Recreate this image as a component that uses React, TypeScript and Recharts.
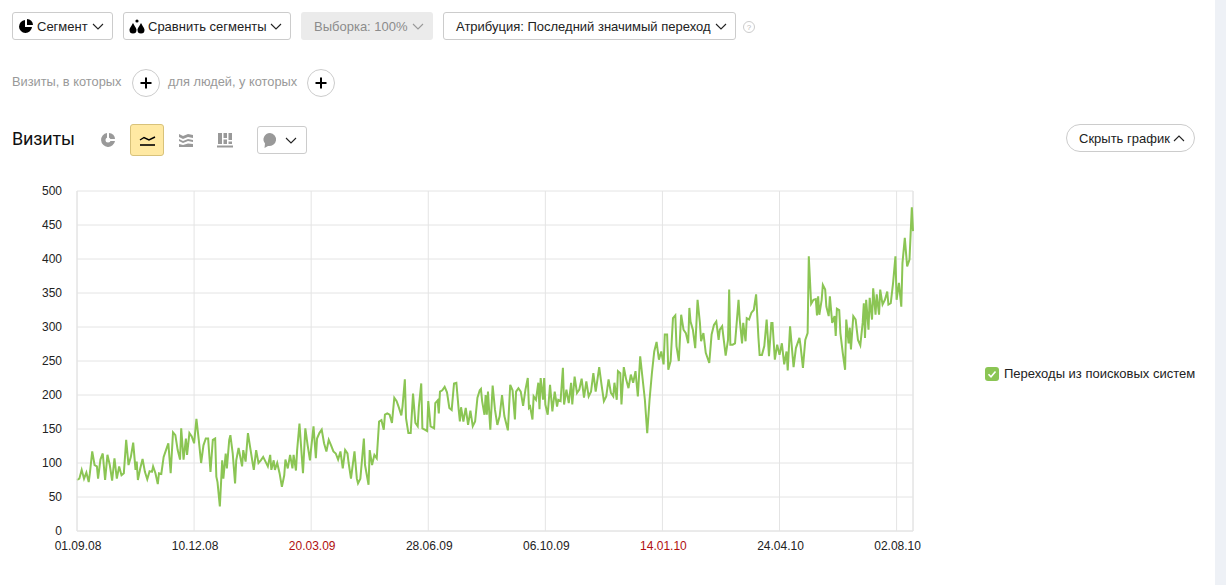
import type { CSSProperties, ReactNode } from 'react';
import { LineChart, Line, XAxis, YAxis, CartesianGrid, ReferenceLine, Legend } from 'recharts';

const FONT = '"Liberation Sans", Arial, sans-serif';
const GREEN = '#8bc554';
const GRID = '#e4e4e4';

const seriesName = 'Переходы из поисковых систем';

const visitDays = [
  0, 2, 4, 6, 8, 10, 11, 13, 15, 17, 18, 20, 22, 24, 26, 28, 30, 32, 34, 36, 38, 40, 42, 44, 46, 48, 50, 51, 52, 54, 56, 58, 60, 62, 64, 65, 67, 69, 70, 72, 74, 76, 78, 80, 82, 84, 86, 88, 89, 91, 93, 94, 96, 98, 100, 102, 104, 106, 108, 110, 112, 114, 116,
  118, 119, 120, 122, 124, 125, 127, 128, 130, 131, 133, 135, 136, 138, 141, 142, 144, 146, 148, 150, 151, 153, 155, 157, 159, 161, 163, 165, 166, 168, 169, 171, 173, 175, 177, 178, 180, 182, 184, 185, 187, 188, 190, 193, 195, 197, 199, 200, 202, 204, 205, 207, 209, 211, 213, 215, 217, 219, 221, 223, 225, 227, 229, 231, 232, 234, 237, 239, 240, 242, 245, 246, 249, 250, 252, 254, 256, 258,
  260, 262, 263, 265, 267, 269, 271, 273, 275, 277, 278, 280, 281, 283, 285, 287, 289, 291, 292, 294, 295, 297, 299, 300, 302, 305, 306, 308, 309, 310, 312, 314, 316, 318, 320, 322, 324, 326, 327, 328, 330, 332, 334, 336, 338, 340, 342, 344, 345, 346, 348, 349, 350, 351, 353, 355, 357, 359, 361, 363, 365, 368, 370, 372, 374, 375, 377, 379,
  381, 383, 385, 386, 387, 389, 390, 392, 394, 395, 396, 398, 399, 400, 402, 404, 406, 408, 410, 411, 413, 415, 416, 418, 420, 422, 423, 425, 427, 429, 431, 433, 435, 437, 439, 441, 443, 446, 448, 450, 452, 454, 456, 458, 459, 461, 462, 464, 465, 467, 469, 471, 473, 475, 477, 479, 481, 483, 485, 487, 489, 491, 493, 495, 497,
  499, 501, 502, 504, 505, 507, 509, 511, 512, 514, 516, 518, 520, 522, 523, 524, 526, 528, 530, 532, 533, 535, 537, 538, 540, 542, 544, 546, 548, 549, 551, 554, 556, 557, 558, 560, 562, 565, 566, 568, 569, 571, 572, 574, 576, 578, 580, 582, 583, 585, 587, 589, 591, 593, 594, 596, 598, 600, 602, 604, 606, 607, 609, 612, 614, 617, 618, 620,
  622, 624, 625, 627, 629, 631, 632, 633, 634, 636, 637, 639, 640, 642, 643, 645, 647, 648, 649, 651, 652, 654, 656, 657, 659, 660, 661, 663, 665, 667, 669, 671, 672, 673, 674, 676, 677, 679, 680, 682, 683, 685, 686, 688, 690, 692, 693, 695, 697, 699, 700, 702, 704, 705, 707, 709, 711, 712, 713, 714,
];

const visits = [
  75, 77, 90, 77, 86, 72, 85, 117, 97, 95, 77, 105, 114, 75, 112, 97, 74, 107, 77, 95, 82, 85, 134, 97, 109, 130, 90, 102, 75, 92, 106, 87, 76, 88, 87, 95, 85, 69, 85, 84, 109, 119, 129, 85, 145, 141, 119, 105, 151, 105, 136, 112, 144, 139, 129, 165, 134, 100, 126, 136, 136, 87, 134,
  136, 80, 72, 36, 104, 77, 114, 92, 134, 141, 114, 70, 104, 122, 95, 119, 102, 144, 122, 100, 90, 119, 100, 104, 109, 102, 95, 112, 90, 104, 90, 100, 85, 65, 82, 105, 92, 112, 92, 112, 89, 119, 158, 85, 151, 126, 104, 122, 154, 107, 136, 144, 149, 129, 117, 134, 126, 117, 114, 105, 117, 92, 119, 114, 100, 77, 117, 77, 70, 77, 136, 97, 68, 119, 97, 112, 107, 161,
  163, 149, 171, 173, 171, 159, 196, 191, 181, 170, 183, 223, 166, 144, 144, 202, 159, 154, 183, 217, 151, 149, 147, 191, 154, 151, 188, 192, 173, 205, 207, 212, 204, 181, 178, 217, 218, 178, 161, 182, 161, 181, 156, 177, 154, 161, 196, 207, 209, 191, 171, 200, 171, 205, 149, 214, 178, 156, 169, 200, 169, 148, 215, 207, 164, 205, 210, 205,
  184, 208, 225, 181, 183, 164, 198, 193, 218, 179, 225, 193, 225, 186, 171, 215, 176, 205, 183, 193, 191, 240, 186, 208, 188, 218, 186, 227, 203, 208, 224, 196, 220, 198, 205, 232, 205, 241, 215, 191, 198, 223, 203, 198, 218, 193, 235, 232, 186, 241, 223, 210, 230, 218, 235, 198, 257, 225, 193, 144, 193, 232, 264, 278, 252,
  264, 245, 289, 289, 237, 250, 313, 317, 272, 250, 318, 296, 291, 276, 328, 308, 296, 269, 340, 306, 279, 291, 262, 257, 247, 289, 303, 308, 281, 296, 301, 258, 281, 355, 274, 274, 276, 340, 311, 276, 306, 279, 313, 311, 321, 325, 348, 284, 259, 259, 272, 311, 257, 306, 306, 252, 274, 259, 276, 245, 264, 236, 301, 241, 269, 284, 272, 240,
  281, 291, 404, 334, 340, 341, 317, 345, 318, 340, 362, 355, 330, 316, 345, 306, 316, 287, 327, 325, 291, 262, 237, 311, 276, 299, 267, 316, 311, 281, 273, 306, 335, 284, 340, 296, 343, 311, 357, 318, 348, 318, 355, 333, 340, 352, 333, 335, 365, 404, 340, 365, 330, 394, 431, 389, 399, 438, 476, 441,
];

const xTicks = [0, 100, 200, 300, 400, 500, 600, 700];
const xLabels = ['01.09.08', '10.12.08', '20.03.09', '28.06.09', '06.10.09', '14.01.10', '24.04.10', '02.08.10'];
const redLabels = ['20.03.09', '14.01.10'];
const yTicks = [0, 50, 100, 150, 200, 250, 300, 350, 400, 450, 500];

const chartData = visitDays.map((day, i) => ({ day, visits: visits[i] }));

const DateTick = ({ x, y, index }: any) => {
  const label = xLabels[index];
  return (
    <text x={x + 1} y={y + 11} textAnchor="middle" fontSize={12} fontFamily={FONT} fill={redLabels.includes(label) ? '#b01010' : '#222'}>
      {label}
    </text>
  );
};

const LegendItem = () => (
  <div style={{ display: 'flex', alignItems: 'center', fontFamily: FONT, fontSize: 13, color: '#222', whiteSpace: 'nowrap' }}>
    <svg width={14} height={14} style={{ marginRight: 5 }}>
      <rect width={14} height={14} rx={3} fill={GREEN} />
      <path d="M3.5 7.2 L6 9.8 L10.5 4.6" fill="none" stroke="#fff" strokeWidth={1.6} />
    </svg>
    {seriesName}
  </div>
);

const Chevron = ({ up, color = '#222' }: { up?: boolean; color?: string }) => (
  <svg width={12} height={7} style={{ display: 'block' }}>
    <path d={up ? 'M1 6 L6 1 L11 6' : 'M1 1 L6 6 L11 1'} fill="none" stroke={color} strokeWidth={1.1} />
  </svg>
);

const abs = (left: number, top: number, width: number, height: number): CSSProperties => ({
  position: 'absolute',
  left,
  top,
  width,
  height,
  boxSizing: 'border-box',
});

const Button = ({ left, top, width, height = 28, radius = 3, style, children }: { left: number; top: number; width: number; height?: number; radius?: number; style?: CSSProperties; children: ReactNode }) => (
  <div
    style={{
      ...abs(left, top, width, height),
      border: '1px solid #ccc',
      borderRadius: radius,
      display: 'flex',
      alignItems: 'center',
      fontFamily: FONT,
      fontSize: 13,
      color: '#222',
      whiteSpace: 'nowrap',
      ...style,
    }}
  >
    {children}
  </div>
);

const PlusButton = ({ left }: { left: number }) => (
  <div style={{ ...abs(left, 69, 28, 28), border: '1px solid #ccc', borderRadius: 14 }}>
    <svg width={26} height={26}>
      <path d="M7.5 13 H18.5 M13 7.5 V18.5" stroke="#000" strokeWidth={2} />
    </svg>
  </div>
);

const Icon = ({ left, top, size = 20, children }: { left: number; top: number; size?: number; children: ReactNode }) => (
  <svg width={size} height={size} viewBox="0 0 20 20" style={{ position: 'absolute', left, top }}>
    {children}
  </svg>
);

const App = () => (
  <div style={abs(0, 0, 1226, 585)}>
    <div style={{ ...abs(1215, 0, 11, 585), background: '#eef1f6' }} />

    <Button left={12} top={12} width={101}>
      <svg width={16} height={16} style={{ marginLeft: 5, marginRight: 3 }}>
        <path d="M7 2 A6.5 6.5 0 1 0 14 9 H7 Z M9 1 A6 6 0 0 1 15 7 H9 Z" fill="#000" />
      </svg>
      Сегмент
      <span style={{ marginLeft: 4 }}><Chevron /></span>
    </Button>
    <Button left={123} top={12} width={168}>
      <svg width={18} height={16} style={{ marginLeft: 4, marginRight: 2 }}>
        <path d="M5 5 C3 9 1.5 10 1.5 12 A3.5 3.5 0 0 0 8.5 12 C8.5 10 7 9 5 5 Z M13 5 C11 9 9.5 10 9.5 12 A3.5 3.5 0 0 0 16.5 12 C16.5 10 15 9 13 5 Z" fill="#000" />
        <circle cx={9} cy={3} r={1.6} fill="#000" />
      </svg>
      Сравнить сегменты
      <span style={{ marginLeft: 3 }}><Chevron /></span>
    </Button>
    <Button left={301} top={12} width={132} style={{ background: '#ebebeb', border: 'none', color: '#8c8c8c', paddingLeft: 13 }}>
      Выборка: 100%
      <span style={{ marginLeft: 4 }}><Chevron color="#999" /></span>
    </Button>
    <Button left={443} top={12} width={293} style={{ paddingLeft: 12 }}>
      Атрибуция: Последний значимый переход
      <span style={{ marginLeft: 4 }}><Chevron /></span>
    </Button>
    <svg width={14} height={14} style={{ position: 'absolute', left: 742, top: 20 }}>
      <circle cx={7} cy={7} r={5.5} fill="none" stroke="#ccc" />
      <text x={7} y={10} textAnchor="middle" fontSize={8} fontFamily={FONT} fill="#bbb">?</text>
    </svg>

    <div style={{ position: 'absolute', left: 12, top: 74, fontFamily: FONT, fontSize: 12.8, color: '#999' }}>Визиты, в которых</div>
    <PlusButton left={132} />
    <div style={{ position: 'absolute', left: 168, top: 74, fontFamily: FONT, fontSize: 12.8, color: '#999' }}>для людей, у которых</div>
    <PlusButton left={307} />

    <div style={{ position: 'absolute', left: 12, top: 128, fontFamily: 'Roboto, sans-serif', fontSize: 18, letterSpacing: -0.15, color: '#111' }}>Визиты</div>
    <Icon left={98} top={130}>
      <path d="M9 3 A7 7 0 1 0 17 11 H9 Z" fill="#999" />
      <path d="M11 3 A6 6 0 0 1 17 9 H11 Z" fill="#999" />
      <circle cx={10} cy={10} r={2.5} fill="#fff" />
    </Icon>
    <Button left={130} top={124} width={34} height={32} style={{ background: '#ffe9a3', border: '1px solid #d8c27a' }}>
      <svg width={32} height={30}>
        <path d="M9 15 L13 12.5 L18 15 L24 12" fill="none" stroke="#000" strokeWidth={1.4} />
        <path d="M9 20 H24" stroke="#000" strokeWidth={1.6} />
      </svg>
    </Button>
    <Icon left={176} top={130}>
      <path d="M3 4 L7 6 L12 4 L17 5 V8 L12 7 L7 9 L3 7 Z M3 9 L7 11 L12 9 L17 10 V12 L12 11 L7 13 L3 11 Z M3 14 L7 15 L12 13.5 L17 14 V17 H3 Z" fill="#999" />
    </Icon>
    <Icon left={215} top={130}>
      <path d="M3 3 H7 V14 H3 Z M8.5 3 H12 V8 H8.5 Z M8.5 9.5 H12 V14 H8.5 Z M13.5 3 H17 V10 H13.5 Z M13.5 11.5 H17 V14 H13.5 Z M2 15.5 H18 V17.5 H2 Z" fill="#999" />
    </Icon>
    <Button left={257} top={126} width={50} height={28}>
      <svg width={18} height={18} style={{ marginLeft: 3 }}>
        <path d="M9 2 A7 6.5 0 1 1 7 15 L3.5 17 L4 12.5 A7 6.5 0 0 1 9 2 Z" fill="#999" />
      </svg>
      <span style={{ marginLeft: 6 }}><Chevron /></span>
    </Button>

    <Button left={1066} top={124} width={129} radius={14} style={{ paddingLeft: 12 }}>
      Скрыть график
      <span style={{ marginLeft: 3 }}><Chevron up /></span>
    </Button>

    <div style={abs(0, 0, 1226, 585)}>
      <LineChart width={1226} height={585} data={chartData} margin={{ top: 191, right: 313, bottom: 0, left: 37 }}>
        <CartesianGrid stroke={GRID} strokeWidth={1} />
        <ReferenceLine x={714} stroke={GRID} />
        <XAxis
          dataKey="day"
          type="number"
          domain={[0, 714]}
          ticks={xTicks}
          interval={0}
          height={54}
          axisLine={{ stroke: GRID }}
          tickLine={false}
          tick={<DateTick />}
        />
        <YAxis
          type="number"
          domain={[0, 500]}
          ticks={yTicks}
          interval={0}
          width={40}
          axisLine={{ stroke: GRID }}
          tickLine={false}
          tickMargin={9}
          tick={{ fontSize: 12, fontFamily: FONT, fill: '#222' }}
        />
        <Legend
          layout="horizontal"
          verticalAlign="middle"
          align="center"
          content={<LegendItem />}
          wrapperStyle={{ position: 'absolute', left: 985, top: 366, width: 220, height: 14 }}
        />
        <Line dataKey="visits" name={seriesName} type="linear" stroke={GREEN} strokeWidth={2} dot={false} isAnimationActive={false} />
      </LineChart>
    </div>
  </div>
);

export default App;
